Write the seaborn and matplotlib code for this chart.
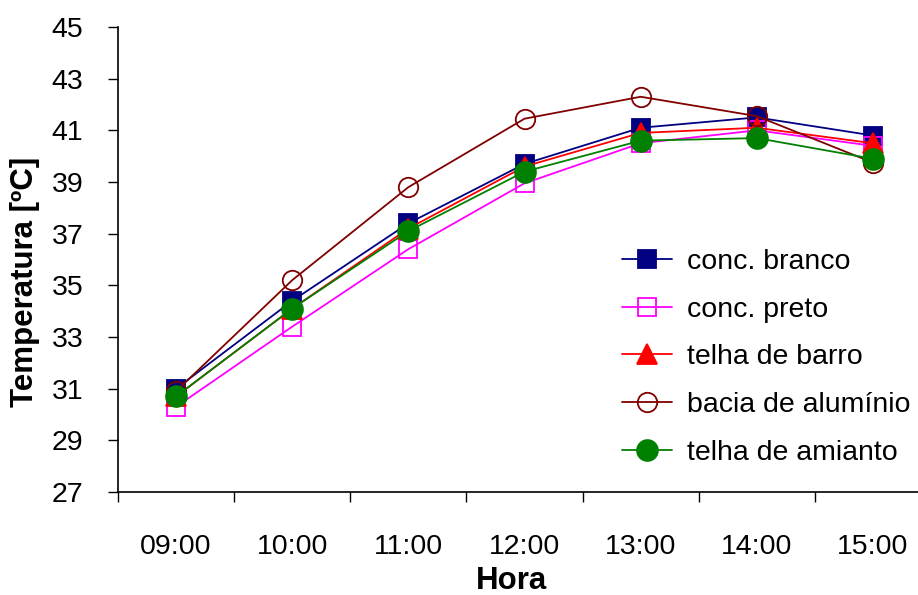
import matplotlib
matplotlib.use("Agg")
import matplotlib.pyplot as plt
import seaborn as sns
import pandas as pd
from matplotlib.lines import Line2D

# Hourly surface temperatures
horas = ["09:00", "10:00", "11:00", "12:00", "13:00", "14:00", "15:00"]
conc_branco = [31.0, 34.4, 37.4, 39.7, 41.1, 41.5, 40.8]
conc_preto = [30.3, 33.4, 36.4, 38.95, 40.5, 41.0, 40.4]
telha_barro = [30.7, 34.1, 37.2, 39.6, 40.9, 41.1, 40.5]
bacia_aluminio = [30.9, 35.2, 38.8, 41.45, 42.3, 41.55, 39.75]
telha_amianto = [30.7, 34.1, 37.1, 39.4, 40.6, 40.7, 39.9]
y_ticks = [27, 29, 31, 33, 35, 37, 39, 41, 43, 45]

series = [
    ("conc. branco", conc_branco, "#000080", "s", "#000080", 13),
    ("conc. preto", conc_preto, "#FF00FF", "s", "none", 13),
    ("telha de barro", telha_barro, "#FF0000", "^", "#FF0000", 14),
    ("bacia de alumínio", bacia_aluminio, "#800000", "o", "none", 14),
    ("telha de amianto", telha_amianto, "#008000", "o", "#008000", 15),
]

sns.set_style("white")
plt.rcParams["font.family"] = ["Liberation Sans", "DejaVu Sans"]
for key in ["text.color", "axes.labelcolor", "xtick.color", "ytick.color"]:
    plt.rcParams[key] = "black"

FS = 20.5
FS_LABEL = 22.5
W, H = 918, 595
fig = plt.figure(figsize=(W / 100, H / 100), dpi=100)
x0, x1, ytop, ybot = 118, 931, 27, 492
ax = fig.add_axes([x0 / W, 1 - ybot / H, (x1 - x0) / W, (ybot - ytop) / H])

x_pos = list(range(len(horas)))
handles = []
for name, vals, col, mk, mfc, ms in series:
    df = pd.DataFrame({"hora": x_pos, "temp": vals})
    sns.lineplot(data=df, x="hora", y="temp", ax=ax, color=col, lw=1.3,
                 marker=mk, markersize=ms, markerfacecolor=mfc,
                 markeredgecolor=col, markeredgewidth=1.3, legend=False)
    handles.append(Line2D([], [], color=col, lw=1.3, marker=mk, markersize=ms,
                          markerfacecolor=mfc, markeredgecolor=col,
                          markeredgewidth=1.3, label=name))

ax.set_xlim(-0.5, len(horas) - 0.5)
ax.set_ylim(27, 45)
ax.set_yticks(y_ticks)
ax.set_yticklabels([str(t) for t in y_ticks])
ax.set_xticks(x_pos)
ax.set_xticklabels(horas)
ax.set_xticks([i - 0.5 for i in range(len(horas) + 1)], minor=True)
ax.tick_params(axis="x", which="major", length=0, pad=30, labelsize=FS)
ax.tick_params(axis="x", which="minor", length=7, width=1, color="black",
               direction="out", bottom=True)
ax.tick_params(axis="y", which="major", length=7, width=1, color="black",
               direction="out", left=True, pad=18, labelsize=FS)
ax.set_xlabel("")
ax.set_ylabel("")

for s in ["top", "right"]:
    ax.spines[s].set_visible(False)
for s in ["left", "bottom"]:
    ax.spines[s].set_color("black")
    ax.spines[s].set_linewidth(1.2)

fig.text(25 / W, 1 - 282 / H, "Temperatura [ºC]", rotation=90, ha="center",
         va="center", fontsize=FS_LABEL, fontweight="bold")
fig.text(512 / W, 1 - 581 / H, "Hora", ha="center", va="center",
         fontsize=FS_LABEL, fontweight="bold")

fig.legend(handles=handles, loc="upper left",
           bbox_to_anchor=(622 / W, 1 - 249 / H), bbox_transform=fig.transFigure,
           frameon=False, fontsize=FS, handlelength=1.75, handletextpad=0.55,
           labelspacing=0.76, borderpad=0, borderaxespad=0)

fig.savefig("out.png", dpi=100)
